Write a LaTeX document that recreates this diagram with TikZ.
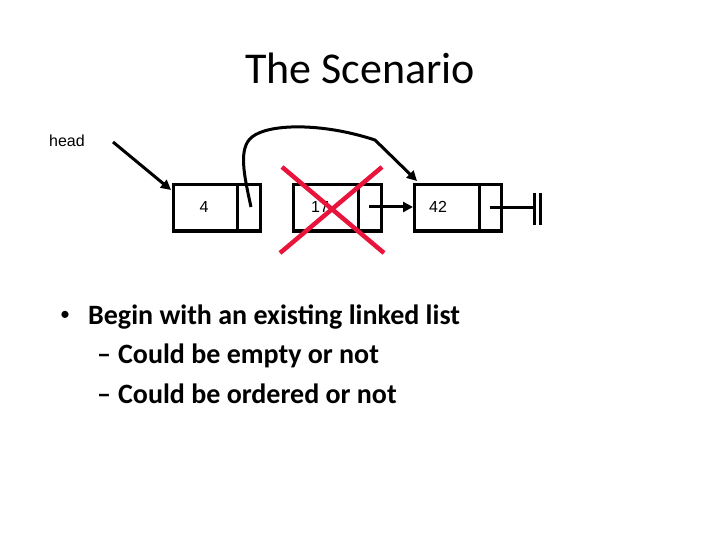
\documentclass[tikz,border=0pt]{standalone}
\usepackage{fontspec}
\setmainfont{Carlito}
\newfontfamily\arialf{Liberation Sans}
\usetikzlibrary{arrows.meta}
\definecolor{xred}{RGB}{232,20,60}
\tikzset{
  cell/.style={draw, line width=3pt},
  ptr/.style={line width=3pt, -{Triangle[length=10pt,width=10pt]}},
  lbl/.style={font=\arialf\fontsize{16}{18}\selectfont, inner sep=0pt},
  cross/.style={xred, line width=4.5pt},
  bul/.style={font=\bfseries\fontsize{28}{32}\selectfont, anchor=base west, inner sep=0pt}
}
\begin{document}
\begin{tikzpicture}[x=1pt,y=-1pt]
\useasboundingbox (0,0) rectangle (720,540);
\node[font=\fontsize{44}{48}\selectfont, inner sep=0pt] (title) at (360,68) {The Scenario};
\node[lbl, anchor=west] (head) at (49,141) {head};
% boxes
\draw[cell] (173,185) rectangle (260,231);
\draw[cell] (237,185) -- (237,231);
\draw[cell] (293,185) rectangle (381,231);
\draw[cell] (358,185) -- (358,231);
\draw[cell] (414,185) rectangle (501,231);
\draw[cell] (479,185) -- (479,231);
\node[lbl] (n1) at (204,207) {4};
\node[lbl] (n2) at (320,207) {17};
\node[lbl] (n3) at (438,207) {42};
% head arrow
\coordinate (hs) at (113,142);
\coordinate (he) at (171,190);
\draw[ptr] (hs) -- (he);
% box2 -> box3
\coordinate (p2) at (369,207);
\coordinate (e3) at (413,207);
\draw[ptr] (p2) -- (e3);
% null
\coordinate (p3) at (490,208);
\coordinate (nl) at (534,208);
\draw[line width=3pt] (p3) -- (nl);
\draw[line width=3pt] (534,193) -- (534,225);
\draw[line width=3pt] (540,193) -- (540,225);
% curved arrow
\coordinate (p1) at (251,207);
\coordinate (t3) at (417,181);
\draw[ptr] (p1) .. controls (244,175) and (238,148) .. (252,137)
  .. controls (268,124) and (320,122) .. (375,140)
  -- (t3);
% red X
\draw[cross] (282,167) -- (384,253);
\draw[cross] (382,167) -- (280,253);
% bullets
\node[font=\fontsize{20}{22}\selectfont, inner sep=0pt] (dot) at (65,316) {\textbullet};
\node[bul] (t1) at (88,324) {Begin with an existing linked list};
\node[bul] (t2) at (97,363) {–\hspace{7pt}Could be empty or not};
\node[bul] (t3) at (97,403) {–\hspace{7pt}Could be ordered or not};
\end{tikzpicture}
\end{document}
